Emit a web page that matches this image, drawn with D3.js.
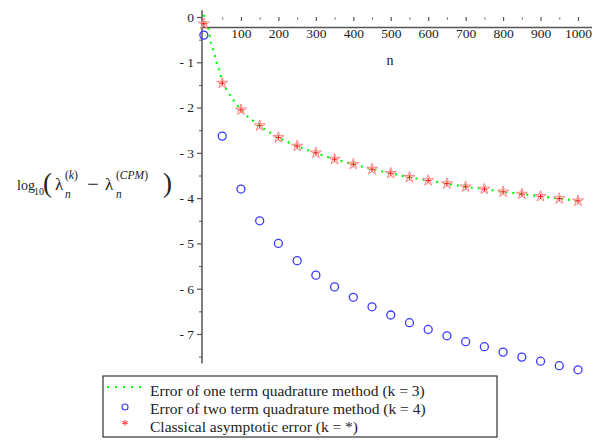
<!DOCTYPE html>
<html>
<head>
<meta charset="utf-8">
<script src="https://cdn.jsdelivr.net/npm/d3@7"></script>
<style>
  html, body { margin: 0; padding: 0; background: #fff; }
  svg { display: block; font-family: "Liberation Serif", "Times New Roman", serif; }
  svg text { font-family: "Liberation Serif", "Times New Roman", serif; }
</style>
</head>
<body>
<svg id="chart" width="600" height="440"></svg>
<script>
// ---------------- data ----------------
const xTickValues = [100, 200, 300, 400, 500, 600, 700, 800, 900, 1000];
const xMinorTicks = [50, 150, 250, 350, 450, 550, 650, 750, 850, 950];
const yTickValues = [0, -1, -2, -3, -4, -5, -6, -7];
const yMinorTicks = [-0.5, -1.5, -2.5, -3.5, -4.5, -5.5, -6.5, -7.5];

// one term quadrature method (k = 3) — continuous curve
const oneTermN =   [1, 7, 16, 17.4, 24, 29, 35, 41, 46, 50, 62, 73, 86, 100, 113, 150, 200, 250, 300, 350, 400, 450, 500, 550, 600, 650, 700, 750, 800, 850, 900, 950, 1000];
const oneTermVal = [0.05, -0.15, -0.34, -0.49, -0.66, -0.82, -1.0, -1.15, -1.3, -1.46, -1.61, -1.76, -1.9, -2.05, -2.16, -2.40, -2.66, -2.85, -3.0, -3.14, -3.25, -3.36, -3.45, -3.54, -3.61, -3.68, -3.75, -3.80, -3.86, -3.91, -3.96, -4.01, -4.06];

// two term quadrature method (k = 4)
const twoTermN =   [1, 50, 100, 150, 200, 250, 300, 350, 400, 450, 500, 550, 600, 650, 700, 750, 800, 850, 900, 950, 1000];
const twoTermVal = [-0.40, -2.63, -3.80, -4.50, -5.00, -5.38, -5.70, -5.96, -6.19, -6.40, -6.58, -6.75, -6.90, -7.04, -7.17, -7.28, -7.40, -7.51, -7.60, -7.70, -7.79];

// classical asymptotic error (k = *)
const classicN =   [1, 50, 100, 150, 200, 250, 300, 350, 400, 450, 500, 550, 600, 650, 700, 750, 800, 850, 900, 950, 1000];
const classicVal = [-0.15, -1.46, -2.05, -2.40, -2.66, -2.85, -3.00, -3.14, -3.25, -3.36, -3.45, -3.54, -3.61, -3.68, -3.75, -3.80, -3.86, -3.91, -3.96, -4.01, -4.06];

const legendLabels = [
  "Error of one term quadrature method (k = 3)",
  "Error of two term quadrature method (k = 4)",
  "Classical asymptotic error (k = *)"
];

// ---------------- layout ----------------
const serif = "Liberation Serif, Times New Roman, serif";
const svg = d3.select("#chart");
const x = d3.scaleLinear().domain([0, 1000]).range([203.5, 578]);
const y = d3.scaleLinear().domain([0, -7]).range([17, 334]);

const axisColor = "#555";
const axisX = 202;          // vertical axis position
const axisYpix = y(-0.23);  // horizontal axis line position

// y axis line
svg.append("line")
  .attr("x1", axisX).attr("x2", axisX)
  .attr("y1", y(0.15)).attr("y2", y(-7.65))
  .attr("stroke", axisColor).attr("stroke-width", 1.5);

// y ticks
const yAxis = svg.append("g").attr("transform", `translate(${axisX},0)`)
  .call(d3.axisLeft(y).tickValues(yTickValues).tickSize(5).tickPadding(3)
    .tickFormat(d => d === 0 ? "0" : "- " + Math.abs(d)));
yAxis.attr("font-family", serif);
yAxis.select(".domain").remove();
yAxis.selectAll("line").attr("stroke", axisColor).attr("stroke-width", 1.2);
yAxis.selectAll("text").attr("font-size", 13.5).attr("fill", "#222");

const yMinor = svg.append("g").attr("transform", `translate(${axisX},0)`)
  .call(d3.axisLeft(y).tickValues(yMinorTicks).tickSize(3).tickFormat(""));
yMinor.select(".domain").remove();
yMinor.selectAll("line").attr("stroke", axisColor).attr("stroke-width", 1);

// x axis line
svg.append("line")
  .attr("x1", axisX - 1).attr("x2", 592)
  .attr("y1", axisYpix).attr("y2", axisYpix)
  .attr("stroke", axisColor).attr("stroke-width", 1.5);

// x ticks (drawn above the axis line)
const xMajor = svg.append("g").attr("transform", "translate(0,21)")
  .call(d3.axisTop(x).tickValues(xTickValues).tickSize(4).tickFormat(""));
xMajor.select(".domain").remove();
xMajor.selectAll("line").attr("stroke", axisColor).attr("stroke-width", 1.2);

const xMin = svg.append("g").attr("transform", "translate(0,19.5)")
  .call(d3.axisTop(x).tickValues(xMinorTicks).tickSize(2).tickFormat(""));
xMin.select(".domain").remove();
xMin.selectAll("line").attr("stroke", axisColor).attr("stroke-width", 1);

// x labels
const xLab = svg.append("g").attr("transform", `translate(0,${axisYpix})`)
  .call(d3.axisBottom(x).tickValues(xTickValues).tickSize(0).tickPadding(1)
    .tickFormat(d3.format("d")));
xLab.attr("font-family", serif);
xLab.select(".domain").remove();
xLab.selectAll("text").attr("font-size", 13.5).attr("fill", "#222");

// x axis title
svg.append("text").attr("x", 390).attr("y", 65).attr("text-anchor", "middle")
  .attr("font-size", 14).attr("fill", "#222").text("n");

// y axis title: log10( λn^(k) − λn^(CPM) )
const yl = svg.append("g").attr("fill", "#222");
function t(xp, yp, size, txt, italic) {
  return yl.append("text").attr("x", xp).attr("y", yp).attr("font-size", size)
    .attr("font-style", italic ? "italic" : "normal").text(txt);
}
t(17, 190, 14, "log");
t(34, 195, 10, "10");
t(43, 192, 27, "(");
t(55, 190, 17, "λ");
const s1 = yl.append("text").attr("x", 65).attr("y", 179).attr("font-size", 11.5);
s1.append("tspan").text("(");
s1.append("tspan").attr("font-style", "italic").text("k");
s1.append("tspan").text(")");
t(65, 198, 11.5, "n", true);
t(87, 191, 21, "−");
t(105, 190, 17, "λ");
const s2 = yl.append("text").attr("x", 116).attr("y", 179).attr("font-size", 11.5);
s2.append("tspan").text("(");
s2.append("tspan").attr("font-style", "italic").text("CPM");
s2.append("tspan").text(")");
t(116, 198, 11.5, "n", true);
t(163, 192, 27, ")");

// ---------------- marks ----------------
const green = "#00ff00";
const blue = "#3a3aff";
const starStroke = "#ff7a7a";
const starCenter = "#ff0000";

// dotted green curve
const lineGen = d3.line().x(d => x(d[0])).y(d => y(d[1])).curve(d3.curveMonotoneX);
svg.append("path")
  .datum(oneTermN.map((n, i) => [n, oneTermVal[i]]))
  .attr("d", lineGen)
  .attr("fill", "none").attr("stroke", green).attr("stroke-width", 2.2)
  .attr("stroke-dasharray", "2,5");

// blue circles
svg.append("g").selectAll("circle")
  .data(twoTermN.map((n, i) => [n, twoTermVal[i]]))
  .join("circle")
  .attr("cx", d => x(d[0])).attr("cy", d => y(d[1])).attr("r", 4)
  .attr("fill", "none").attr("stroke", blue).attr("stroke-width", 1.3);

// red stars
const starPath = d3.symbol().type(d3.symbolStar).size(38)();
const stars = svg.append("g").selectAll("g")
  .data(classicN.map((n, i) => [n, classicVal[i]]))
  .join("g")
  .attr("transform", d => `translate(${x(d[0])},${y(d[1])})`);
stars.append("path").attr("d", starPath)
  .attr("fill", "#ffe0e0").attr("fill-opacity", 0.5)
  .attr("stroke", starStroke).attr("stroke-width", 0.9);
stars.append("path").attr("d", "M-2.5,0H2.5M0,-2.5V2.5")
  .attr("stroke", starCenter).attr("stroke-width", 0.9);

// ---------------- legend ----------------
const lg = svg.append("g");
lg.append("rect").attr("x", 103).attr("y", 376).attr("width", 394).attr("height", 61)
  .attr("fill", "#fff").attr("stroke", "#333").attr("stroke-width", 1.2);
const rowY = [393, 411, 429];
lg.append("line").attr("x1", 107).attr("x2", 143).attr("y1", rowY[0] - 6).attr("y2", rowY[0] - 6)
  .attr("stroke", green).attr("stroke-width", 2.2).attr("stroke-dasharray", "2,6");
lg.append("circle").attr("cx", 125).attr("cy", rowY[1] - 4).attr("r", 3)
  .attr("fill", "none").attr("stroke", blue).attr("stroke-width", 1.2);
lg.append("text").attr("x", 125).attr("y", rowY[2] + 1).attr("text-anchor", "middle")
  .attr("font-size", 14).attr("fill", starCenter).text("*");
lg.selectAll("text.lab").data(legendLabels).join("text").attr("class", "lab")
  .attr("x", 150).attr("y", (d, i) => rowY[i] + 3)
  .attr("font-size", 15.5).attr("fill", "#222").text(d => d);
</script>
</body>
</html>
